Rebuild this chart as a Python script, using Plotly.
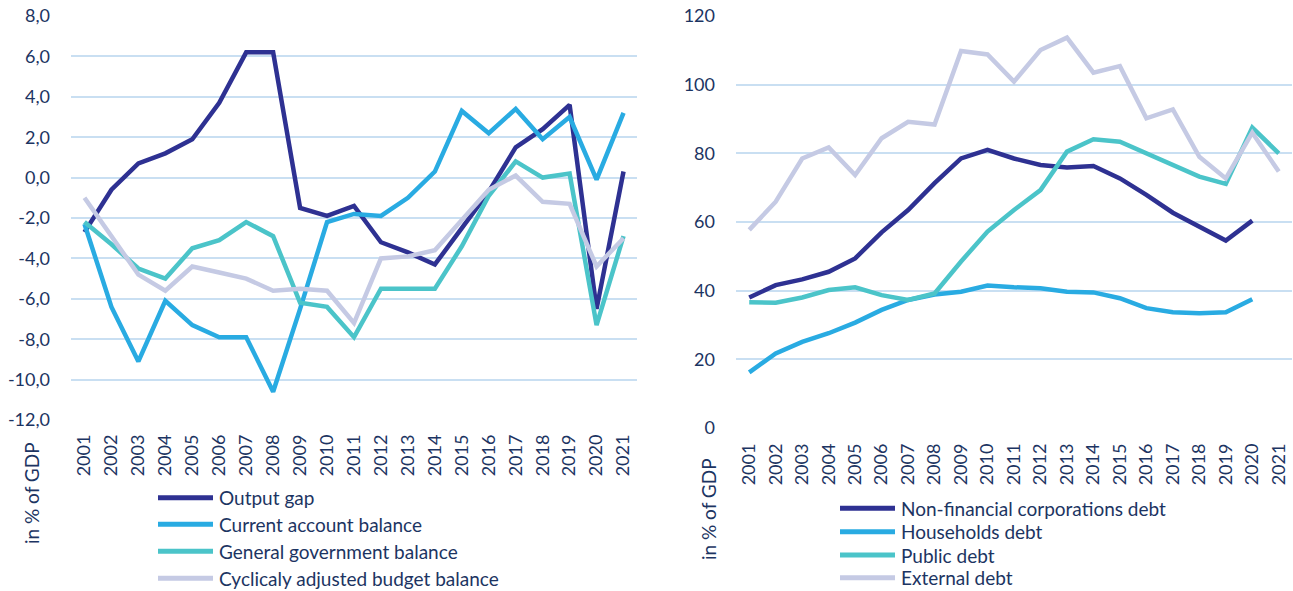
import plotly.graph_objects as go

years = [str(y) for y in range(2001, 2022)]

# Left panel (in % of GDP)
output_gap = [-2.7, -0.6, 0.7, 1.2, 1.9, 3.7, 6.2, 6.2, -1.5, -1.9, -1.4, -3.2, -3.7, -4.3, -2.5, -0.7, 1.5, 2.4, 3.6, -6.5, 0.3]
current_account = [-2.3, -6.4, -9.1, -6.1, -7.3, -7.9, -7.9, -10.6, -6.5, -2.2, -1.8, -1.9, -1.0, 0.3, 3.3, 2.2, 3.4, 1.9, 3.0, -0.1, 3.2]
gov_balance = [-2.2, -3.3, -4.5, -5.0, -3.5, -3.1, -2.2, -2.9, -6.2, -6.4, -7.9, -5.5, -5.5, -5.5, -3.4, -0.9, 0.8, 0.0, 0.2, -7.3, -2.9]
cyc_adj_balance = [-1.0, -2.9, -4.8, -5.6, -4.4, -4.7, -5.0, -5.6, -5.5, -5.6, -7.2, -4.0, -3.9, -3.6, -2.1, -0.6, 0.1, -1.2, -1.3, -4.4, -3.0]

# Right panel (in % of GDP)
nfc_debt = [38.0, 41.6, 43.3, 45.5, 49.4, 57.0, 63.5, 71.3, 78.5, 81.0, 78.5, 76.6, 75.9, 76.3, 72.7, 67.9, 62.7, 58.6, 54.6, 60.4, None]
household_debt = [16.2, 21.7, 25.1, 27.6, 30.7, 34.4, 37.3, 38.9, 39.7, 41.5, 41.0, 40.7, 39.7, 39.5, 37.8, 34.9, 33.7, 33.4, 33.7, 37.5, None]
public_debt = [36.6, 36.5, 38.0, 40.2, 41.0, 38.7, 37.3, 39.2, 48.5, 57.2, 63.5, 69.3, 80.5, 84.1, 83.4, 80.0, 76.6, 73.2, 71.1, 87.5, 80.0]
external_debt = [57.7, 65.9, 78.5, 81.7, 73.7, 84.4, 89.2, 88.4, 109.8, 108.8, 100.9, 110.1, 113.7, 103.5, 105.4, 90.2, 92.8, 79.0, 72.7, 86.0, 74.7]

left_names = ["Output gap", "Current account balance", "General government balance", "Cyclicaly adjusted budget balance"]
right_names = ["Non-financial corporations debt", "Households debt", "Public debt", "External debt"]

left_ticks = [8, 6, 4, 2, 0, -2, -4, -6, -8, -10, -12]
left_ticktext = ["8,0", "6,0", "4,0", "2,0", "0,0", "-2,0", "-4,0", "-6,0", "-8,0", "-10,0", "-12,0"]
right_ticks = [0, 20, 40, 60, 80, 100, 120]

colors = ["#2E3192", "#29ABE2", "#4BC4C9", "#C5CAE4"]
text_color = "#1C3462"
grid_color = "#C9DFF2"
FONT = "Lato"
W, H = 1293, 591

fig = go.Figure()

for name, vals, c in zip(left_names, [output_gap, current_account, gov_balance, cyc_adj_balance], colors):
    fig.add_trace(go.Scatter(x=years, y=vals, name=name, mode="lines",
                             line=dict(color=c, width=4.5), xaxis="x", yaxis="y"))

for name, vals, c in zip(right_names, [nfc_debt, household_debt, public_debt, external_debt], colors):
    fig.add_trace(go.Scatter(x=years, y=vals, name=name, mode="lines",
                             line=dict(color=c, width=4.5), xaxis="x2", yaxis="y2"))

tickfont = dict(family=FONT, size=18, color=text_color)

# custom legends (line sample + label), in paper coordinates
shapes, annotations = [], []
legend_specs = [
    (left_names, 158, 213, 217, [497.7, 524.3, 551.3, 578.3]),
    (right_names, 840, 895, 899, [508.3, 531.7, 555.0, 577.7]),
]
for names, lx0, lx1, tx, rows in legend_specs:
    for name, c, ry in zip(names, colors, rows):
        shapes.append(dict(type="line", xref="paper", yref="paper",
                           x0=lx0 / W, x1=lx1 / W, y0=1 - ry / H, y1=1 - ry / H,
                           line=dict(color=c, width=5)))
        annotations.append(dict(text=name, x=tx / W, y=1 - ry / H, xref="paper", yref="paper",
                                xanchor="left", yanchor="middle", showarrow=False,
                                font=dict(family=FONT, size=19, color=text_color)))

for ax, ay in [(31, 493), (708, 509)]:
    annotations.append(dict(text="in % of GDP", x=ax / W, y=1 - ay / H, xref="paper", yref="paper",
                            textangle=-90, xanchor="center", yanchor="middle", showarrow=False,
                            font=dict(family=FONT, size=19, color=text_color)))

fig.update_layout(
    width=W, height=H,
    margin=dict(l=0, r=0, t=0, b=0, autoexpand=False),
    paper_bgcolor="white", plot_bgcolor="white",
    font=dict(family=FONT, size=18, color=text_color),
    showlegend=False,
    xaxis=dict(domain=[71 / W, 637 / W], anchor="y", type="category", range=[-0.5, 20.5],
               tickangle=-90, showgrid=False, ticks="", showline=False, zeroline=False,
               tickfont=tickfont, ticklabelstandoff=10),
    yaxis=dict(domain=[1 - 420 / H, 1 - 16 / H], anchor="x", range=[-12, 8], tickvals=left_ticks,
               ticktext=left_ticktext, showgrid=True, gridcolor=grid_color, gridwidth=1.5,
               showline=False, zeroline=False, tickfont=tickfont, ticklabelstandoff=20),
    xaxis2=dict(domain=[736 / W, 1292 / W], anchor="y2", type="category", range=[-0.5, 20.5],
                tickangle=-90, showgrid=False, ticks="", showline=False, zeroline=False,
                tickfont=tickfont, ticklabelstandoff=11),
    yaxis2=dict(domain=[1 - 428 / H, 1 - 16 / H], anchor="x2", range=[0, 120], tickvals=right_ticks,
                showgrid=True, gridcolor=grid_color, gridwidth=1.5,
                showline=False, zeroline=False, tickfont=tickfont, ticklabelstandoff=20),
    shapes=shapes,
    annotations=annotations,
)

fig.write_html("out.html", config={"displayModeBar": False},
               post_script="document.body.style.margin='0';")
